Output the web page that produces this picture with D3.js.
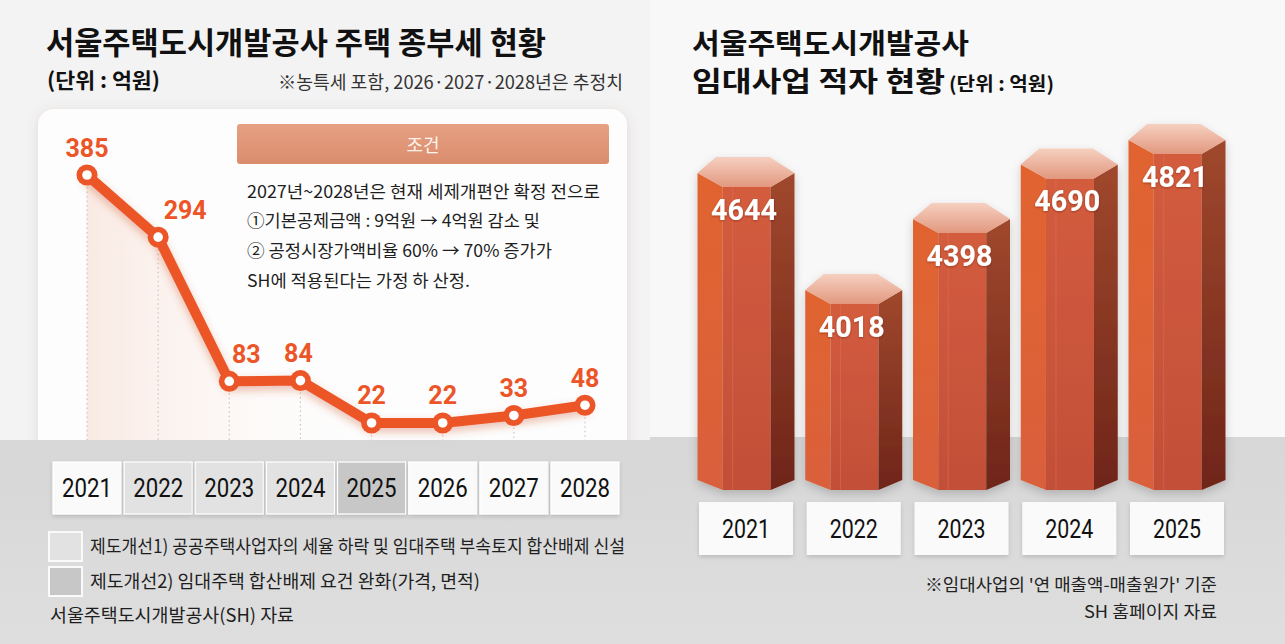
<!DOCTYPE html>
<html><head><meta charset="utf-8">
<script src="https://cdn.jsdelivr.net/npm/d3@7/dist/d3.min.js"></script>
<style>
body{margin:0;background:#f5f5f5;}
svg{display:block}
text{font-family:'Noto Sans CJK KR','Noto Sans',sans-serif;}
</style>
</head><body>
<svg id="c" width="1285" height="644"></svg>
<script>
// ---------- DATA ----------
const taxYears = ["2021","2022","2023","2024","2025","2026","2027","2028"];
const taxValues = [385, 294, 83, 84, 22, 22, 33, 48];
const taxRegime = ["none","reform1","reform1","reform1","reform2","none","none","none"];
const legendLabels = [
  "제도개선1) 공공주택사업자의 세율 하락 및 임대주택 부속토지 합산배제 신설",
  "제도개선2) 임대주택 합산배제 요건 완화(가격, 면적)"
];
const conditionTitle = "조건";
const conditionLines = [
  "2027년~2028년은 현재 세제개편안 확정 전으로",
  "①기본공제금액 : 9억원 → 4억원 감소 및",
  "② 공정시장가액비율 60% → 70% 증가가",
  "SH에 적용된다는 가정 하 산정."
];
const leftTitle = "서울주택도시개발공사 주택 종부세 현황";
const leftUnit = "(단위 : 억원)";
const leftNote = "※농특세 포함, 2026·2027·2028년은 추정치";
const leftSource = "서울주택도시개발공사(SH) 자료";

const deficitYears = ["2021","2022","2023","2024","2025"];
const deficitValues = [4644, 4018, 4398, 4690, 4821];
const rightTitle1 = "서울주택도시개발공사";
const rightTitle2 = "임대사업 적자 현황";
const rightUnit = "(단위 : 억원)";
const rightNote = "※임대사업의 '연 매출액-매출원가' 기준";
const rightSource = "SH 홈페이지 자료";

// ---------- SETUP ----------
const svg = d3.select("#c");
const defs = svg.append("defs");

function shadow(id, dy, sd, color, op){
  const f = defs.append("filter").attr("id", id)
    .attr("x","-30%").attr("y","-30%").attr("width","160%").attr("height","160%");
  f.append("feDropShadow").attr("dx",0).attr("dy",dy).attr("stdDeviation",sd)
    .attr("flood-color",color).attr("flood-opacity",op);
}
shadow("panelSh", 2, 6, "#7a5a50", 0.18);
shadow("lineSh", 4, 4, "#c8401a", 0.35);
shadow("boxSh", 2, 2, "#000", 0.15);
shadow("txtSh", 1, 1, "#5a1a0a", 0.45);
shadow("barSh", 4, 5, "#000", 0.18);

function grad(id, stops, horiz){
  const g = defs.append("linearGradient").attr("id", id)
    .attr("x1",0).attr("y1",0).attr("x2",horiz?1:0).attr("y2",horiz?0:1);
  stops.forEach(s => g.append("stop").attr("offset", s[0]).attr("stop-color", s[1]).attr("stop-opacity", s[2]===undefined?1:s[2]));
}
grad("hdrG", [[0,"#e6a083"],[1,"#da8d6d"]]);
grad("pinkG", [[0,"#f6d3c4",0.45],[0.3,"#f9e2d8",0.18],[0.6,"#ffffff",0]], true);
grad("greyG", [[0,"#d7d7d8"],[1,"#dedede"]]);
grad("capG", [[0,"#f6d0c0"],[1,"#e2987f"]]);
grad("leftFaceG", [[0,"#e1642f"],[1,"#d9603c"]]);
grad("frontFaceG", [[0,"#d35c3e"],[1,"#c24f38"]]);
grad("rightFaceG", [[0,"#a0482d"],[1,"#6f2519"]]);

function txt(g, x, y, s, o){
  o = o || {};
  const t = g.append("text").attr("x", x).attr("y", y).text(s)
    .attr("dominant-baseline","central")
    .attr("font-size", o.size || 17)
    .attr("font-weight", o.weight || 400)
    .attr("fill", o.fill || "#222")
    .attr("text-anchor", o.anchor || "start");
  if (o.family) t.style("font-family", o.family);
  if (o.len) t.attr("textLength", o.len).attr("lengthAdjust","spacingAndGlyphs");
  if (o.filter) t.attr("filter", o.filter);
  return t;
}

// layers
const bgL = svg.append("g");
const panelL = svg.append("g");
const bandL = svg.append("g");
const frontL = svg.append("g");

// ---------- BACKGROUND ----------
bgL.append("rect").attr("width",1285).attr("height",644).attr("fill","#f4f3f3");
bgL.append("rect").attr("x",650).attr("width",635).attr("height",644).attr("fill","#f8f8f8");
bandL.append("rect").attr("x",0).attr("y",440).attr("width",650).attr("height",204).attr("fill","url(#greyG)");
bandL.append("rect").attr("x",650).attr("y",437).attr("width",635).attr("height",207).attr("fill","url(#greyG)");

// ---------- LEFT CHART ----------
txt(frontL, 46, 40, leftTitle, {size:31, weight:700, fill:"#111", len:500});
txt(frontL, 47, 79, leftUnit, {size:21, weight:700, fill:"#111", len:113});
txt(frontL, 278, 81, leftNote, {size:18, fill:"#333", len:345});

panelL.append("rect").attr("x",38).attr("y",109).attr("width",589).attr("height",350)
  .attr("rx",16).attr("fill","#fdfdfd").attr("filter","url(#panelSh)");

const x = d3.scalePoint().domain(taxYears).range([87, 585]);
const y = d3.scaleLinear().domain([0, 385]).range([438, 175]);

const area = d3.area().x((d,i)=>x(taxYears[i])).y0(440).y1(d=>y(d));
panelL.append("path").datum(taxValues).attr("d", area).attr("fill","url(#pinkG)");

panelL.selectAll(".guide").data(taxValues).join("line")
  .attr("x1",(d,i)=>x(taxYears[i])).attr("x2",(d,i)=>x(taxYears[i]))
  .attr("y1", d=>y(d)+12).attr("y2", 442)
  .attr("stroke","#cdc3c0").attr("stroke-width",1.2).attr("stroke-dasharray","1.5,3");

panelL.append("rect").attr("x",237).attr("y",124).attr("width",372).attr("height",40)
  .attr("rx",3).attr("fill","url(#hdrG)");
txt(panelL, 423, 144, conditionTitle, {size:18, fill:"#fff3ec", anchor:"middle"});
const condLens = [353, 293, 305, 223];
conditionLines.forEach((s,i)=>{
  txt(panelL, 247, 190 + i*29.7, s, {size:17, fill:"#1e1e1e", len:condLens[i]});
});

const line = d3.line().x((d,i)=>x(taxYears[i])).y(d=>y(d));
frontL.append("path").datum(taxValues).attr("d", line).attr("fill","none")
  .attr("stroke","#ec5527").attr("stroke-width",10)
  .attr("stroke-linejoin","round").attr("stroke-linecap","round")
  .attr("filter","url(#lineSh)");
frontL.selectAll(".dotO").data(taxValues).join("circle")
  .attr("cx",(d,i)=>x(taxYears[i])).attr("cy",d=>y(d)).attr("r",10.5).attr("fill","#ec5527");
frontL.selectAll(".dotI").data(taxValues).join("circle")
  .attr("cx",(d,i)=>x(taxYears[i])).attr("cy",d=>y(d)).attr("r",4.8).attr("fill","#fff");

taxValues.forEach((v,i)=>{
  const dx = i===1 ? 27 : (i===2 ? 17 : (i===3 ? -2 : 0));
  txt(frontL, x(taxYears[i]) + dx, y(v) - 27, String(v),
      {size:25, weight:700, fill:"#ec5527", anchor:"middle", family:"Roboto, 'Noto Sans', sans-serif"});
});

const regimeFill = {none:"#fafafa", reform1:"#e2e2e2", reform2:"#c7c7c7"};
taxYears.forEach((yr,i)=>{
  const cx = x(yr);
  frontL.append("rect").attr("x",cx-34).attr("y",462).attr("width",68).attr("height",52)
    .attr("fill", regimeFill[taxRegime[i]]).attr("stroke","#ffffff").attr("stroke-width",1.2)
    .attr("filter","url(#boxSh)");
  txt(frontL, cx, 488, yr, {size:25, fill:"#111", anchor:"middle", len:50, family:"Roboto, 'Noto Sans', sans-serif"});
});

const legFills = [regimeFill.reform1, regimeFill.reform2];
const legLens = [535, 390];
legendLabels.forEach((s,i)=>{
  const yy = 532 + i*35;
  frontL.append("rect").attr("x",49).attr("y",yy).attr("width",33).attr("height",29)
    .attr("fill",legFills[i]).attr("stroke","#fafafa").attr("stroke-width",2);
  txt(frontL, 90, yy+13, s, {size:18, fill:"#1e1e1e", len:legLens[i]});
});
txt(frontL, 50, 614, leftSource, {size:18, fill:"#1e1e1e", len:244});

// ---------- RIGHT CHART ----------
txt(frontL, 692, 42, rightTitle1, {size:28, weight:700, fill:"#111", len:277});
txt(frontL, 692, 80, rightTitle2, {size:28, weight:700, fill:"#111", len:253});
txt(frontL, 949, 82, rightUnit, {size:19, weight:700, fill:"#111", len:105});

const bx = d3.scalePoint().domain(deficitYears).range([746, 1177]);
const by = d3.scaleLinear().domain([4018, 4821]).range([274, 124]);
const W = 97, capMid = 16, capD = 30, botFront = 490, botSide = 480;
const poly = pts => pts.map(p=>p.join(",")).join(" ");

deficitValues.forEach((v,i)=>{
  const cx = bx(deficitYears[i]);
  const x0 = cx - W/2, x1 = cx + W/2;
  const xfl = x0 + 0.26*W, xfr = x0 + 0.755*W;
  const xbl = x0 + 0.19*W, xbr = x0 + 0.745*W;
  const top = by(v);
  const g = frontL.append("g").attr("filter","url(#barSh)");
  g.append("polygon").attr("points", poly([[x0,top+capMid],[xfl,top+capD],[xfl,botFront],[x0,botSide]]))
    .attr("fill","url(#leftFaceG)");
  g.append("polygon").attr("points", poly([[xfl,top+capD],[xfr,top+capD],[xfr,botFront],[xfl,botFront]]))
    .attr("fill","url(#frontFaceG)");
  g.append("polygon").attr("points", poly([[xfr,top+capD],[x1,top+capMid],[x1,botSide],[xfr,botFront]]))
    .attr("fill","url(#rightFaceG)");
  g.append("line").attr("x1",xfl+10).attr("x2",xfl+10).attr("y1",top+capD).attr("y2",botFront)
    .attr("stroke","#e27256").attr("stroke-width",1).attr("opacity",0.5);
  g.append("polygon").attr("points", poly([[x0,top+capMid],[xbl,top],[xbr,top],[x1,top+capMid],[xfr,top+capD],[xfl,top+capD]]))
    .attr("fill","url(#capG)");
  txt(frontL, cx-2, top+53, String(v), {size:29, weight:700, fill:"#ffffff", anchor:"middle", len:66,
      family:"Roboto, 'Noto Sans', sans-serif", filter:"url(#txtSh)"});
  frontL.append("rect").attr("x",cx-47).attr("y",502).attr("width",94).attr("height",53)
    .attr("fill","#fafafa").attr("filter","url(#boxSh)");
  txt(frontL, cx, 529, deficitYears[i], {size:25, fill:"#111", anchor:"middle", len:48,
      family:"Roboto, 'Noto Sans', sans-serif"});
});

txt(frontL, 1217, 583, rightNote, {size:17, fill:"#222", anchor:"end", len:292});
txt(frontL, 1217, 610, rightSource, {size:17, fill:"#222", anchor:"end", len:133});
</script>
</body></html>
